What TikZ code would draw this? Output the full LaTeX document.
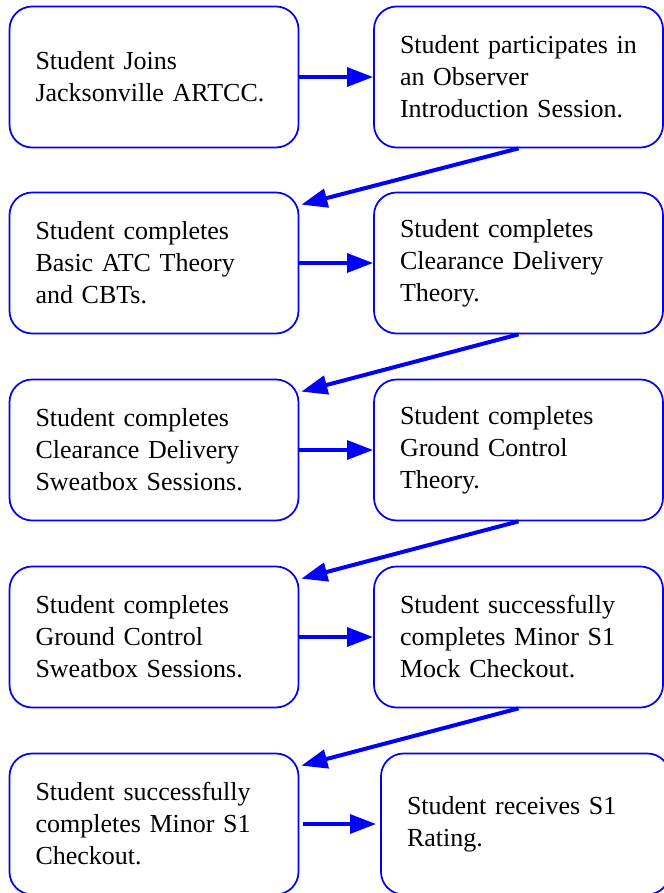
\documentclass[tikz,border=0pt]{standalone}
\usepackage{fontspec}
\setmainfont{Liberation Serif}
\usetikzlibrary{arrows.meta,calc}
\begin{document}
\begin{tikzpicture}[x=0.75pt,y=-0.75pt]
              \tikzstyle{every node}+=[inner ysep=0pt]
              \tikzstyle{stage}=[draw=blue,line width=1.3pt,rounded corners=17pt,minimum width=216.75pt,minimum height=105.75pt,text width=177.75pt,inner xsep=19.5pt,align=left,font=\fontsize{19.5pt}{24pt}\selectfont]
              \tikzstyle{flow}=[draw=blue,line width=3pt,-{Triangle[length=19.5pt,width=14pt]}]
              \useasboundingbox (0,0) rectangle (664,893);
              \node [stage] (joins) at (154,77) {Student Joins\\Jacksonville ARTCC.};
              \node [stage] (observer) at (518.5,77) {Student participates in\\an Observer\\Introduction Session.};
              \node [stage] (basic) at (154,263) {Student completes\\Basic ATC Theory\\and CBTs.};
              \node [stage] (cdtheory) at (518.5,263) {Student completes\\Clearance Delivery\\Theory.};
              \node [stage] (cdsweat) at (154,450) {Student completes\\Clearance Delivery\\Sweatbox Sessions.};
              \node [stage] (gctheory) at (518.5,450) {Student completes\\Ground Control\\Theory.};
              \node [stage] (gcsweat) at (154,637) {Student completes\\Ground Control\\Sweatbox Sessions.};
              \node [stage] (mock) at (518.5,637) {Student successfully\\completes Minor S1\\Mock Checkout.};
              \node [stage] (checkout) at (154,824) {Student successfully\\completes Minor S1\\Checkout.};
              \node [stage] (rating) at (525.5,824) {Student receives S1\\Rating.};
              \draw [flow] (joins) -- (observer);
              \draw [flow] (observer.south) -- ($(basic.north east)+(2,13)$);
              \draw [flow] (basic) -- (cdtheory);
              \draw [flow] (cdtheory.south) -- ($(cdsweat.north east)+(2,13)$);
              \draw [flow] (cdsweat) -- (gctheory);
              \draw [flow] (gctheory.south) -- ($(gcsweat.north east)+(2,13)$);
              \draw [flow] (gcsweat) -- (mock);
              \draw [flow] (mock.south) -- ($(checkout.north east)+(2,13)$);
              \draw [flow,shorten <=3pt,shorten >=3pt] (checkout) -- (rating);
            \end{tikzpicture}
\end{document}
